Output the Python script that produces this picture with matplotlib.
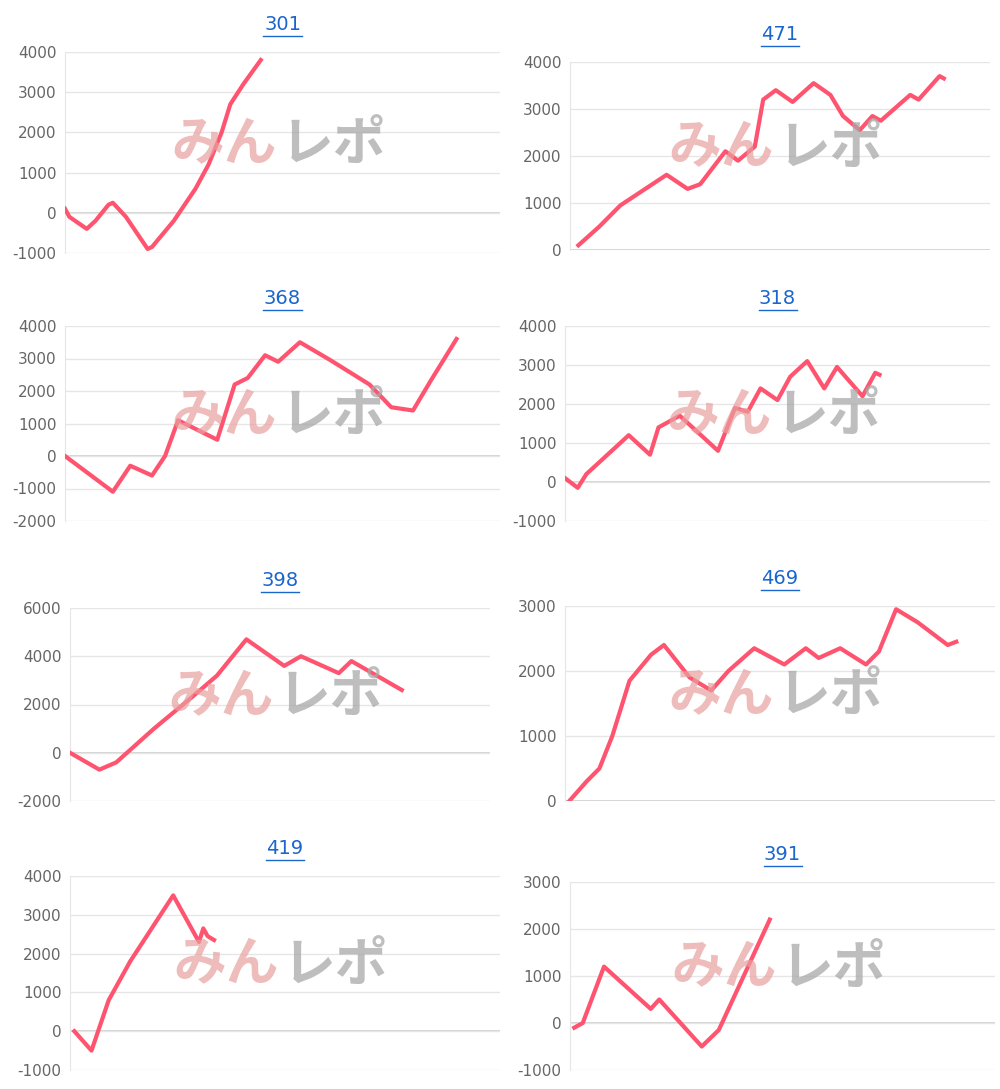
import matplotlib.pyplot as plt
from matplotlib.lines import Line2D

plt.rcParams["axes.unicode_minus"] = False

# x in percent of the plot width, y in points
titles = ["301", "471", "368", "318", "398", "469", "419", "391"]
xs = [
    [0, 1, 5, 7, 10, 11, 14, 19, 20, 25, 30, 33, 36, 38, 41, 45],
    [2, 7, 12, 23, 28, 31, 37, 40, 44, 46, 49, 53, 58, 62, 65, 69, 72, 74, 81, 83, 88, 89],
    [0, 11, 15, 20, 23, 26, 35, 39, 42, 46, 49, 54, 61, 70, 75, 80, 84, 90],
    [0, 3, 5, 15, 20, 22, 27, 36, 40, 43, 46, 50, 53, 57, 61, 64, 70, 73, 74],
    [0, 7, 11, 20, 29, 35, 42, 51, 55, 64, 67, 79],
    [1, 5, 8, 11, 15, 20, 23, 29, 34, 38, 44, 51, 56, 59, 64, 70, 73, 77, 82, 89, 91],
    [1, 5, 9, 14, 24, 30, 31, 32, 33.5],
    [1, 3, 8, 19, 21, 24, 31, 35, 47],
]
ys = [
    [100, -100, -400, -200, 200, 250, -100, -900, -850, -200, 600, 1200, 2000, 2700, 3200, 3800],
    [100, 500, 950, 1600, 1300, 1400, 2100, 1900, 2200, 3200, 3400, 3150, 3550, 3300, 2850, 2550, 2850, 2750, 3300, 3200, 3700, 3650],
    [0, -1100, -300, -600, 0, 1100, 500, 2200, 2400, 3100, 2900, 3500, 2950, 2200, 1500, 1400, 2300, 3600],
    [100, -150, 200, 1200, 700, 1400, 1700, 800, 1900, 1800, 2400, 2100, 2700, 3100, 2400, 2950, 2200, 2800, 2750],
    [0, -700, -400, 1000, 2300, 3200, 4700, 3600, 4000, 3300, 3800, 2600],
    [0, 300, 500, 1000, 1850, 2250, 2400, 1900, 1700, 2000, 2350, 2100, 2350, 2200, 2350, 2100, 2300, 2950, 2750, 2400, 2450],
    [0, -500, 800, 1800, 3500, 2300, 2650, 2450, 2350],
    [-100, 0, 1200, 300, 500, 200, -500, -150, 2200],
]
ylims = [(-1000, 4000), (0, 4000), (-2000, 4000), (-1000, 4000),
         (-2000, 6000), (0, 3000), (-1000, 4000), (-1000, 3000)]
ysteps = [1000, 1000, 1000, 1000, 2000, 1000, 1000, 1000]

# axes boxes in pixels: left, right, top, bottom
boxes = [(65, 500, 52, 253), (570, 990, 62, 250), (65, 500, 326, 521), (565, 990, 326, 521),
         (70, 490, 608, 801), (565, 995, 606, 801), (70, 500, 876, 1070), (570, 995, 882, 1070)]

W, H = 1000, 1089
fig = plt.figure(figsize=(W / 100, H / 100), dpi=100)
fig.patch.set_facecolor("white")
jp = ["Noto Sans CJK JP", "DejaVu Sans"]

for i in range(8):
    l, r, t, b = boxes[i]
    ax = fig.add_axes([l / W, 1 - b / H, (r - l) / W, (b - t) / H])
    lo, hi = ylims[i]
    ax.set_ylim(lo, hi)
    ax.set_xlim(0, 100)
    ax.set_yticks(range(lo, hi + 1, ysteps[i]))
    ax.set_xticks([])
    ax.tick_params(axis="y", length=0, labelsize=11, labelcolor="#666666", pad=6)
    ax.grid(axis="y", color="#e6e6e6", linewidth=1)
    ax.axhline(0, color="#cccccc", linewidth=1.2, zorder=1)
    for s in ["top", "right", "bottom"]:
        ax.spines[s].set_visible(False)
    ax.spines["left"].set_color("#e6e6e6")
    ax.plot(xs[i], ys[i], color="#ff5470", linewidth=3, zorder=3, solid_joinstyle="round")

    # watermark
    cx = (l + r) / 2 / W
    cy = 1 - ((t + b) / 2 - 8) / H
    fig.text(cx - 0.006, cy, "みん", color="#e9a0a0", alpha=0.7, fontsize=38, fontweight="bold",
             family=jp, ha="right", va="center", zorder=5)
    fig.text(cx - 0.002, cy, "レポ", color="#a8a8a8", alpha=0.75, fontsize=38, fontweight="bold",
             family=jp, ha="left", va="center", zorder=5)

    # title with underline
    ty = 1 - (t - 28) / H
    fig.text(cx, ty, titles[i], color="#1a66cc", fontsize=14, ha="center", va="center")
    fig.add_artist(Line2D([cx - 0.019, cx + 0.019], [ty - 0.011, ty - 0.011],
                          color="#1a66cc", linewidth=1, transform=fig.transFigure))

fig.savefig("out.png", dpi=100, facecolor="white")
